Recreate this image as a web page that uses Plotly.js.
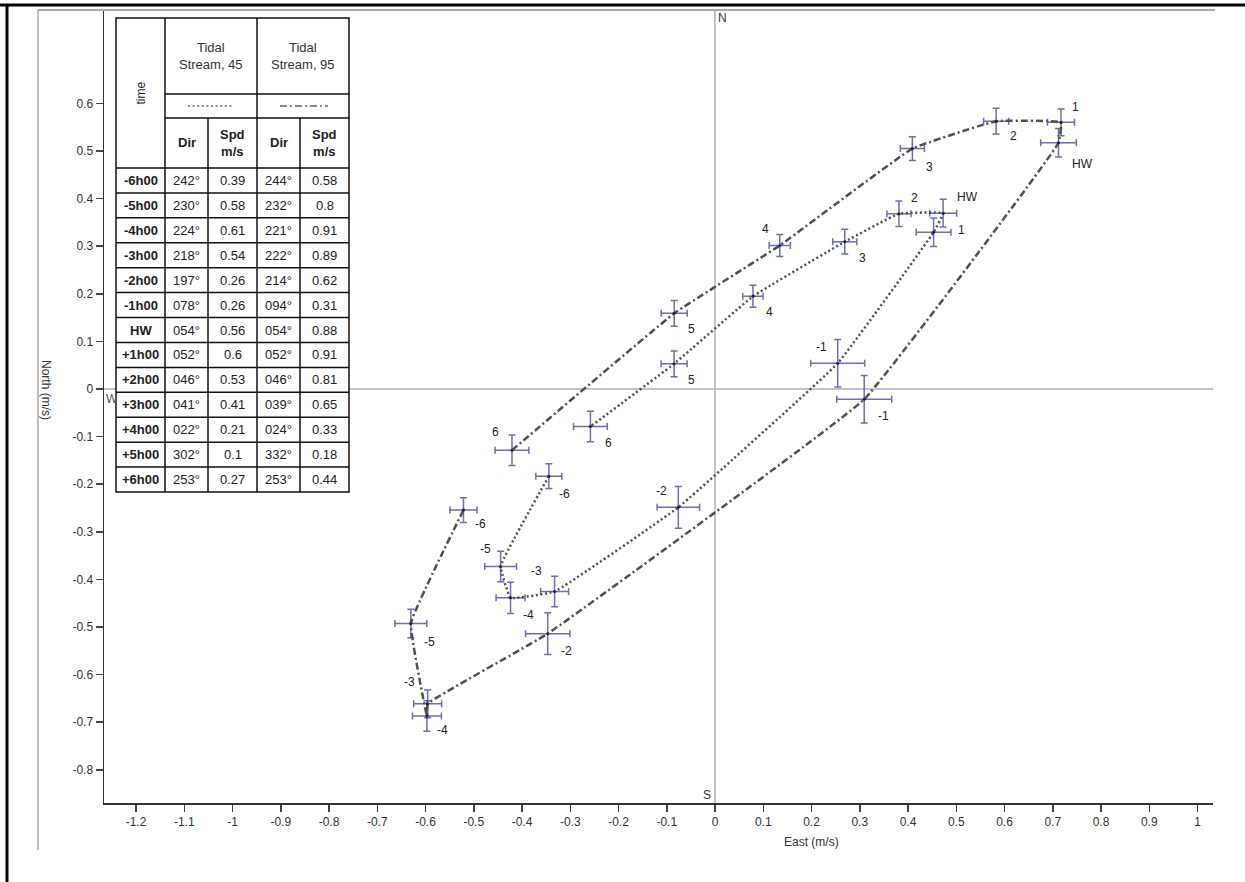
<!DOCTYPE html>
<html>
<head>
<meta charset="utf-8">
<script src="https://cdn.plot.ly/plotly-3.0.1.min.js"></script>
<style>
  html, body { margin: 0; padding: 0; background: #fff; }
  #chart { width: 1245px; height: 882px; }
</style>
</head>
<body>
<div id="chart"></div>
<script>
// Tidal stream ellipses: hourly stream vectors relative to high water (HW)
const hourLabels = ['-6', '-5', '-4', '-3', '-2', '-1', 'HW', '1', '2', '3', '4', '5', '6'];
const timeRows = ['-6h00', '-5h00', '-4h00', '-3h00', '-2h00', '-1h00', 'HW',
                  '+1h00', '+2h00', '+3h00', '+4h00', '+5h00', '+6h00'];

// Tidal Stream, 45 : direction (deg true) and speed (m/s)
const dir45 = [242, 230, 224, 218, 197, 78, 54, 52, 46, 41, 22, 302, 253];
const spd45 = [0.39, 0.58, 0.61, 0.54, 0.26, 0.26, 0.56, 0.6, 0.53, 0.41, 0.21, 0.1, 0.27];
// Tidal Stream, 95
const dir95 = [244, 232, 221, 222, 214, 94, 54, 52, 46, 39, 24, 332, 253];
const spd95 = [0.58, 0.8, 0.91, 0.89, 0.62, 0.31, 0.88, 0.91, 0.81, 0.65, 0.33, 0.18, 0.44];

// Uncertainty of each vector (m/s), east and north components
const errE45 = [0.027, 0.033, 0.030, 0.029, 0.044, 0.056, 0.036, 0.028, 0.025, 0.025, 0.021, 0.027, 0.035];
const errN45 = [0.026, 0.032, 0.033, 0.032, 0.044, 0.050, 0.030, 0.029, 0.027, 0.026, 0.023, 0.027, 0.032];
const errE95 = [0.028, 0.033, 0.030, 0.029, 0.046, 0.057, 0.037, 0.028, 0.026, 0.025, 0.022, 0.027, 0.035];
const errN95 = [0.026, 0.030, 0.032, 0.029, 0.044, 0.050, 0.030, 0.028, 0.027, 0.025, 0.023, 0.027, 0.032];

// Axis ticks
const xTicks = [-1.2, -1.1, -1, -0.9, -0.8, -0.7, -0.6, -0.5, -0.4, -0.3, -0.2, -0.1,
                0, 0.1, 0.2, 0.3, 0.4, 0.5, 0.6, 0.7, 0.8, 0.9, 1];
const yTicks = [-0.8, -0.7, -0.6, -0.5, -0.4, -0.3, -0.2, -0.1, 0, 0.1, 0.2, 0.3, 0.4, 0.5, 0.6];

// ---- layout / style constants ----
const FONT = '"Liberation Sans", Arial, sans-serif';
const LINE_COLOR = '#505050';
const ERR_COLOR = 'rgba(60,60,160,0.75)';
// label offsets (px, right / down) around each point
const lab45dx = [16, -15, 18, -18, -17, -16, 34, 18, 16, 18, 17, 17, 18];
const lab45dy = [18, -17, 17, -21, -16, -16, -35, 17, -16, 16, 16, 16, 16];
const lab95dx = [17, 19, 16, -18, 19, 19, 24, 14, 17, 17, -14, 17, -16];
const lab95dy = [14, 19, 14, -22, 17, 17, 21, -15, 15, 18, -17, 16, -18];

const M = { l: 104, r: 32, t: 10, b: 79 };
const W = 1245, H = 882;
const PW = W - M.l - M.r, PH = H - M.t - M.b;
const px = x => (x - M.l) / PW;
const py = y => (H - M.b - y) / PH;

// polar (direction from north, clockwise) to east/north components
const rad = d => d * Math.PI / 180;
const east = (dirs, spds) => dirs.map((d, i) => spds[i] * Math.sin(rad(d)));
const north = (dirs, spds) => dirs.map((d, i) => spds[i] * Math.cos(rad(d)));

const e45 = east(dir45, spd45), n45 = north(dir45, spd45);
const e95 = east(dir95, spd95), n95 = north(dir95, spd95);

function seriesTrace(e, n, ee, en, dash) {
  return {
    type: 'scatter', mode: 'lines+markers',
    x: e, y: n,
    line: { color: LINE_COLOR, width: 2.5, dash: dash, shape: 'spline', smoothing: 0.25 },
    marker: { size: 3, color: '#222' },
    error_x: { type: 'data', array: ee, visible: true, color: ERR_COLOR, thickness: 1.5, width: 3.5 },
    error_y: { type: 'data', array: en, visible: true, color: ERR_COLOR, thickness: 1.5, width: 3.5 },
    hoverinfo: 'skip', showlegend: false
  };
}

const DOT = '2px,2.6px';
const DASHDOT = '7px,3px,2px,3px';

const traces = [
  seriesTrace(e45, n45, errE45, errN45, DOT),
  seriesTrace(e95, n95, errE95, errN95, DASHDOT)
];

const annotations = [];
function pointLabels(e, n, dx, dy) {
  hourLabels.forEach((t, i) => {
    annotations.push({
      x: e[i], y: n[i], xref: 'x', yref: 'y', text: t, showarrow: false,
      xshift: dx[i], yshift: -dy[i],
      font: { family: FONT, size: 12, color: '#222' }
    });
  });
}
pointLabels(e45, n45, lab45dx, lab45dy);
pointLabels(e95, n95, lab95dx, lab95dy);

function paperText(x, y, text, opts) {
  annotations.push(Object.assign({
    x: px(x), y: py(y), xref: 'paper', yref: 'paper', text: text, showarrow: false,
    xanchor: 'center', yanchor: 'middle',
    font: { family: FONT, size: 13, color: '#222' }
  }, opts || {}));
}

// compass letters and axis titles
paperText(722, 18, 'N', { font: { family: FONT, size: 12, color: '#333' } });
paperText(707, 795, 'S', { font: { family: FONT, size: 12, color: '#333' } });
paperText(112, 399, 'W', { font: { family: FONT, size: 12, color: '#555' } });
paperText(811, 842, 'East (m/s)', { font: { family: FONT, size: 12, color: '#333' } });
paperText(46, 390, 'North (m/s)', { textangle: 90, font: { family: FONT, size: 12, color: '#333' } });

// ---- data table ----
const shapes = [];
const T = { l: 116, r: 349, t: 18, b: 492, c1: 165, c2: 208, c3: 257, c4: 300, r1: 94, r2: 118, r3: 168 };
const rowH = (T.b - T.r3) / timeRows.length;

function seg(x0, y0, x1, y1, style) {
  shapes.push(Object.assign({
    type: 'line', xref: 'paper', yref: 'paper',
    x0: px(x0), y0: py(y0), x1: px(x1), y1: py(y1), layer: 'above',
    line: { color: '#111', width: 1.5 }
  }, style || {}));
}

// white cell background
shapes.push({
  type: 'rect', xref: 'paper', yref: 'paper', layer: 'above',
  x0: px(T.l), x1: px(T.r), y0: py(T.b), y1: py(T.t),
  fillcolor: '#fff', line: { color: '#111', width: 1.5 }
});
seg(T.c1, T.t, T.c1, T.b);
seg(T.c3, T.t, T.c3, T.b);
seg(T.c2, T.r2, T.c2, T.b);
seg(T.c4, T.r2, T.c4, T.b);
seg(T.c1, T.r1, T.r, T.r1);
seg(T.c1, T.r2, T.r, T.r2);
for (let i = 0; i < timeRows.length; i++) {
  const y = T.r3 + i * rowH;
  seg(T.l, y, T.r, y);
}
// line-style keys
seg(188, 106, 234, 106, { line: { color: '#888', width: 2, dash: DOT } });
seg(280, 106, 328, 106, { line: { color: '#888', width: 2, dash: DASHDOT } });

const cx = [(T.l + T.c1) / 2, (T.c1 + T.c2) / 2, (T.c2 + T.c3) / 2, (T.c3 + T.c4) / 2, (T.c4 + T.r) / 2];
paperText(cx[0], (T.t + T.r3) / 2, 'time', { textangle: -90, font: { family: FONT, size: 12, color: '#222' } });
paperText((T.c1 + T.c3) / 2, 56, 'Tidal<br>Stream, 45', { font: { family: FONT, size: 13, color: '#333' } });
paperText((T.c3 + T.r) / 2, 56, 'Tidal<br>Stream, 95', { font: { family: FONT, size: 13, color: '#333' } });
const hy = (T.r2 + T.r3) / 2;
paperText(cx[1], hy, '<b>Dir</b>');
paperText(cx[2], hy, '<b>Spd<br>m/s</b>');
paperText(cx[3], hy, '<b>Dir</b>');
paperText(cx[4], hy, '<b>Spd<br>m/s</b>');

const fmtDir = d => String(d).padStart(3, '0') + '°';
timeRows.forEach((t, i) => {
  const y = T.r3 + (i + 0.5) * rowH;
  paperText(cx[0], y, '<b>' + t + '</b>');
  paperText(cx[1], y, fmtDir(dir45[i]));
  paperText(cx[2], y, String(spd45[i]));
  paperText(cx[3], y, fmtDir(dir95[i]));
  paperText(cx[4], y, String(spd95[i]));
});

// ---- outer frame ----
seg(0, 5, 1245, 5, { line: { color: '#000', width: 3 } });
seg(7, 5, 7, 882, { line: { color: '#000', width: 3 } });
seg(38, 10, 1215, 10, { line: { color: '#aaa', width: 2 } });
seg(38, 10, 38, 850, { line: { color: '#aaa', width: 1.5 } });

const xRange = [(M.l - 715) / 482.5, (W - M.r - 715) / 482.5];
const yRange = [(389 - (H - M.b)) / 476, (389 - M.t) / 476];

const layout = {
  width: W, height: H,
  margin: M,
  paper_bgcolor: '#fff', plot_bgcolor: '#fff',
  font: { family: FONT, size: 12, color: '#333' },
  showlegend: false,
  xaxis: {
    range: xRange, tickvals: xTicks, ticktext: xTicks.map(String),
    showgrid: false, zeroline: true, zerolinecolor: '#c4c4c4', zerolinewidth: 1.5,
    showline: true, linecolor: '#333', linewidth: 2,
    ticks: 'outside', ticklen: 7, tickwidth: 1.5, tickcolor: '#444',
    tickfont: { family: FONT, size: 12, color: '#333' }, fixedrange: true
  },
  yaxis: {
    range: yRange, tickvals: yTicks, ticktext: yTicks.map(String),
    showgrid: false, zeroline: true, zerolinecolor: '#c4c4c4', zerolinewidth: 1.5,
    showline: true, linecolor: '#333', linewidth: 1.5,
    ticks: 'outside', ticklen: 7, tickwidth: 1.5, tickcolor: '#444',
    tickfont: { family: FONT, size: 12, color: '#333' }, fixedrange: true
  },
  shapes: shapes,
  annotations: annotations
};

Plotly.newPlot('chart', traces, layout, { displayModeBar: false, staticPlot: true });
</script>
</body>
</html>
